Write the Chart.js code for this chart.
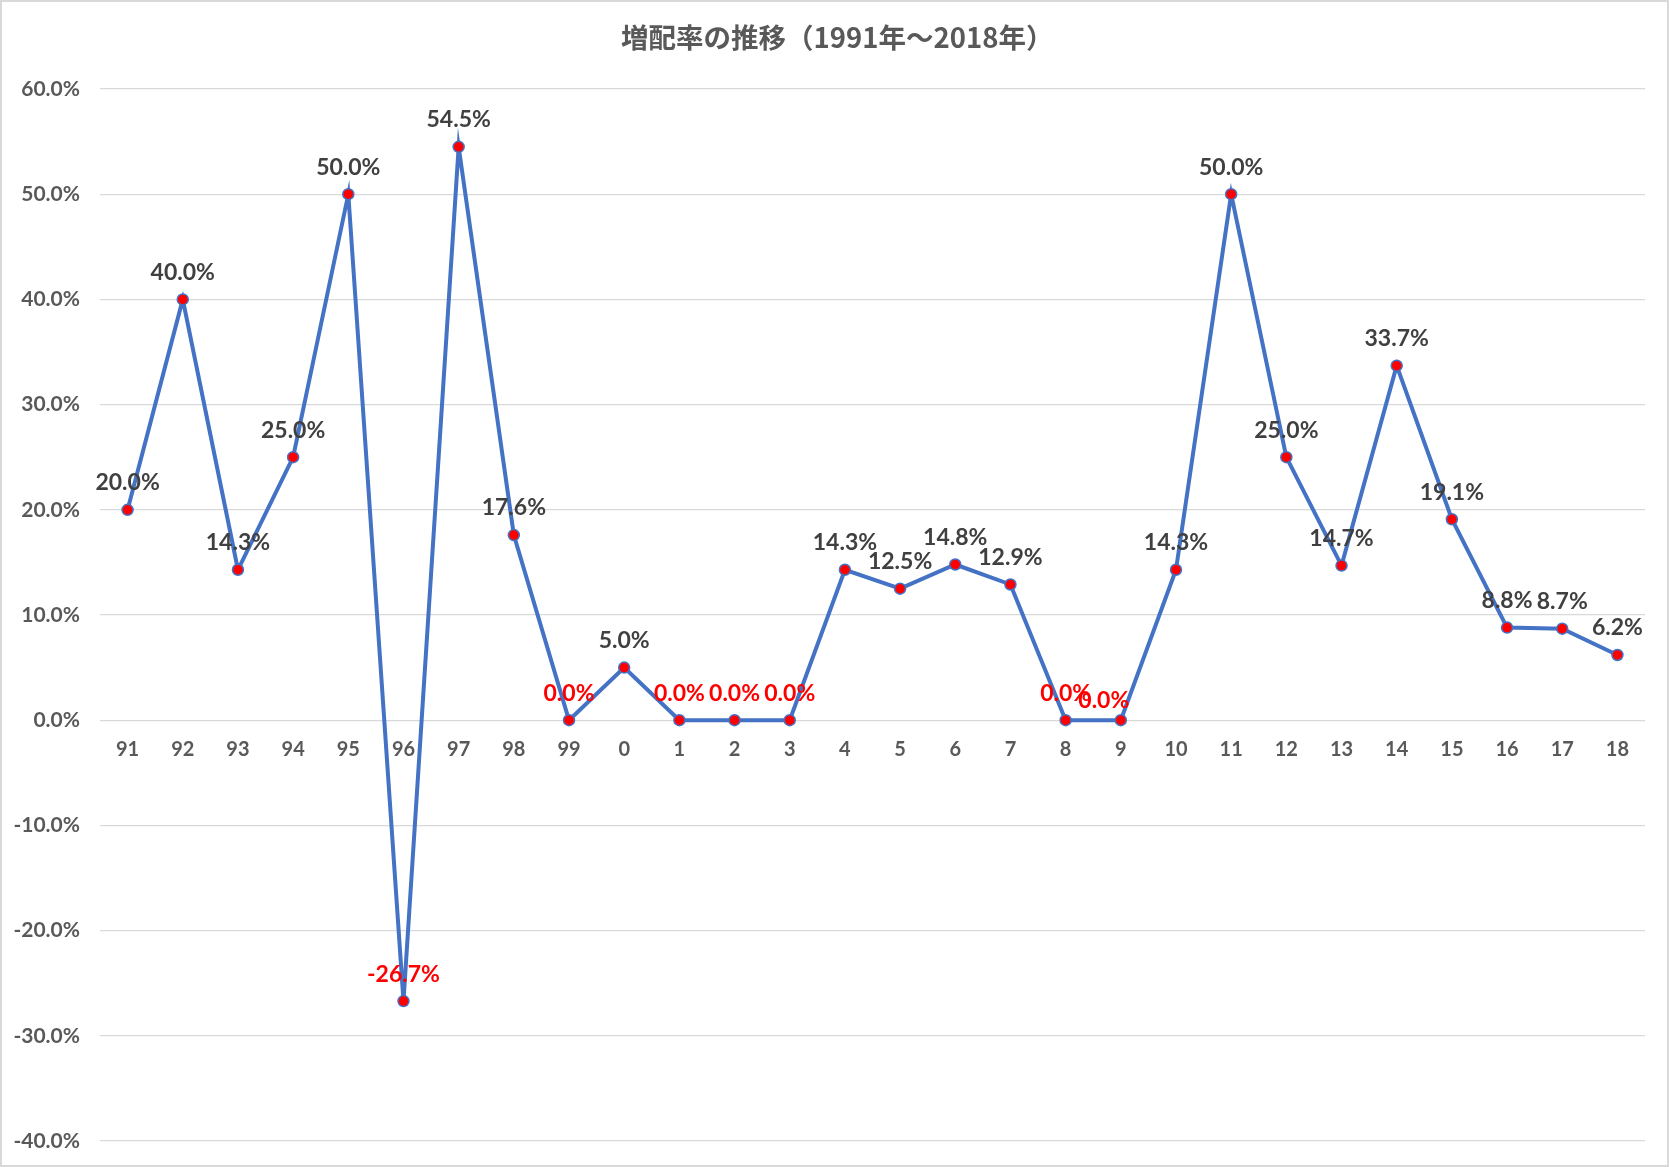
<!DOCTYPE html>
<html>
<head>
<meta charset="utf-8">
<script src="https://cdn.jsdelivr.net/npm/chart.js@4"></script>
<style>
  html, body { margin: 0; padding: 0; background: #fff; }
  #wrap { width: 1669px; height: 1167px; box-sizing: border-box; border: 2px solid #D9D9D9; position: relative; }
</style>
</head>
<body>
<div id="wrap"><canvas id="rateChart"></canvas></div>
<script>
// 年度（西暦下2桁）
var years = ['91','92','93','94','95','96','97','98','99','0','1','2','3','4','5','6','7','8','9','10','11','12','13','14','15','16','17','18'];
// 増配率（%）
var rates = [20.0, 40.0, 14.3, 25.0, 50.0, -26.7, 54.5, 17.6, 0.0, 5.0, 0.0, 0.0, 0.0, 14.3, 12.5, 14.8, 12.9, 0.0, 0.0, 14.3, 50.0, 25.0, 14.7, 33.7, 19.1, 8.8, 8.7, 6.2];
var yTicks = [60, 50, 40, 30, 20, 10, 0, -10, -20, -30, -40];

var numFont = "Lato, 'Open Sans', sans-serif";

// データラベルを描く（datalabelsプラグインの代わり）
var labelPlugin = {
  id: 'pointLabels',
  afterDatasetsDraw: function(chart) {
    var ctx = chart.ctx;
    var meta = chart.getDatasetMeta(0);
    ctx.save();
    ctx.font = "bold 23px " + numFont;
    ctx.textAlign = 'center';
    ctx.textBaseline = 'middle';
    meta.data.forEach(function(pt, i) {
      var v = rates[i];
      var dx = 0, dy = -27;
      if (i === 18) { dx = -17; dy = -20; } // 9年は8年のラベルと重ならないよう少しずらす
      ctx.fillStyle = v <= 0 ? '#FF0000' : '#404040';
      ctx.fillText(v.toFixed(1) + '%', pt.x + dx, pt.y + dy);
    });
    ctx.restore();
  }
};

var ctx = document.getElementById('rateChart').getContext('2d');
var chart = new Chart(ctx, {
  type: 'line',
  data: {
    labels: years,
    datasets: [{
      label: '増配率',
      data: rates,
      borderColor: '#4472C4',
      borderWidth: 4,
      tension: 0,
      pointRadius: 5.5,
      pointBackgroundColor: '#FF0000',
      pointBorderColor: '#4472C4',
      pointBorderWidth: 1.5
    }]
  },
  options: {
    responsive: true,
    maintainAspectRatio: false,
    animation: false,
    layout: { padding: { left: 0, right: 22, top: 0, bottom: 24 } },
    plugins: {
      legend: { display: false },
      tooltip: { enabled: false },
      title: {
        display: true,
        text: '\u3000増配率の推移（1991年～2018年）',
        color: '#595959',
        font: { family: "'Noto Sans CJK JP', sans-serif", size: 27.5, weight: 'bold' },
        padding: { top: 19, bottom: 35 }
      }
    },
    scales: {
      x: {
        type: 'category',
        offset: true,
        position: { y: 0 },
        afterFit: function(scale) { scale.height = 0; },
        grid: { display: false, drawTicks: false },
        border: { display: false },
        ticks: {
          color: '#595959',
          padding: 17,
          maxRotation: 0,
          autoSkip: false,
          font: { family: numFont, size: 20, weight: 'bold' }
        }
      },
      y: {
        min: -40,
        max: 60,
        afterBuildTicks: function(scale) {
          scale.ticks = yTicks.map(function(v) { return { value: v }; });
        },
        afterFit: function(scale) {
          scale.width = 98;
          scale.paddingTop = 10;
          scale.paddingBottom = 10;
        },
        grid: { color: '#D9D9D9', lineWidth: 1.3, drawTicks: false },
        border: { display: false },
        ticks: {
          color: '#595959',
          padding: 20,
          font: { family: numFont, size: 21, weight: 'bold' },
          callback: function(v) { return v.toFixed(1) + '%'; }
        }
      }
    }
  },
  plugins: [labelPlugin]
});
</script>
</body>
</html>
